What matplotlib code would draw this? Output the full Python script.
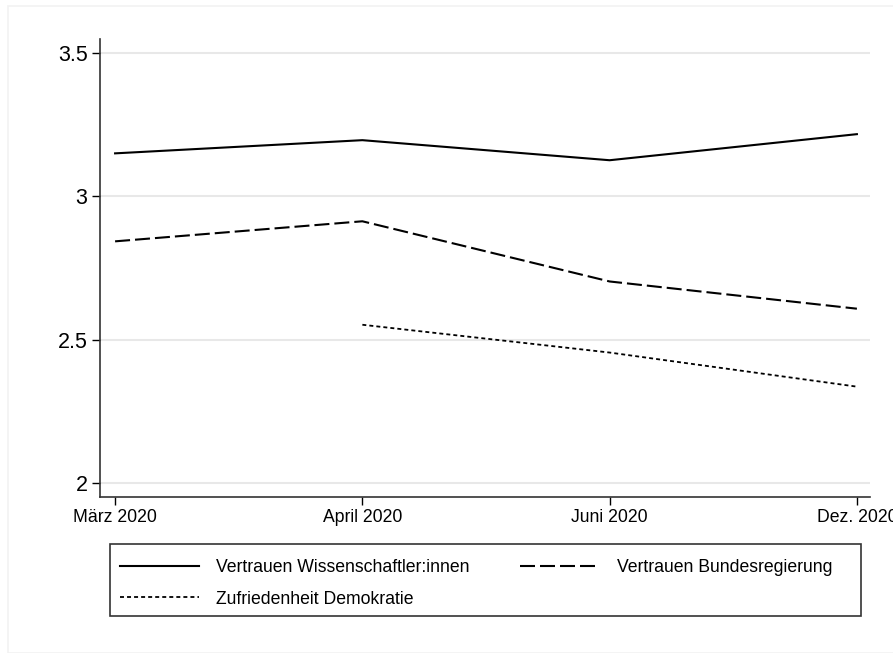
import numpy as np
import matplotlib.pyplot as plt
from matplotlib.patches import Rectangle

plt.rcParams['font.family'] = ['Liberation Sans', 'DejaVu Sans']

# Survey waves
months = ["März 2020", "April 2020", "Juni 2020", "Dez. 2020"]

# Mean values per wave
wissenschaft = [3.150, 3.196, 3.126, 3.217]
regierung = [2.843, 2.913, 2.703, 2.608]
demokratie = [np.nan, 2.552, 2.455, 2.336]

labels = ["Vertrauen Wissenschaftler:innen", "Vertrauen Bundesregierung",
          "Zufriedenheit Demokratie"]

x = np.arange(len(months))

fig = plt.figure(figsize=(8.93, 6.53), dpi=100)
ax = fig.add_axes([100/893, 1-497/653, 770/893, 458/653])

# faint outer frame like the Stata graph region
fig.patches.append(Rectangle((8/893, 0), 1, 1-6/653, transform=fig.transFigure,
                             fill=False, edgecolor='#f2f2f2', linewidth=1.2))

l1, = ax.plot(x, wissenschaft, color='black', lw=1.5, label=labels[0])
l2, = ax.plot(x, regierung, color='black', lw=1.5, dashes=(7.2, 2.4), label=labels[1])
l3, = ax.plot(x, demokratie, color='black', lw=1.3, dashes=(2.2, 1.7), label=labels[2])

ax.set_xlim(-0.061, 3.053)
ax.set_ylim(1.951, 3.549)
ax.set_yticks([2, 2.5, 3, 3.5])
ax.set_yticklabels(["2", "2.5", "3", "3.5"])
ax.set_xticks(x)
ax.set_xticklabels(months)
ax.tick_params(axis='y', labelsize=15.5, length=6, width=1, pad=3)
ax.tick_params(axis='x', labelsize=12.7, length=6, width=1, pad=3)
ax.grid(axis='y', color='#e8e8e8', lw=1.5)
ax.set_axisbelow(True)
for s in ['top', 'right']:
    ax.spines[s].set_visible(False)
for s in ['left', 'bottom']:
    ax.spines[s].set_color('#333333')
    ax.spines[s].set_linewidth(1.2)

# legend box drawn separately, entries placed inside it
fig.patches.append(Rectangle((110/893, 1-616/653), 751/893, 72/653,
                             transform=fig.transFigure, fill=False,
                             edgecolor='#333333', linewidth=1.2))
leg = fig.legend(handles=[l1, l3, l2], labels=[labels[0], labels[2], labels[1]],
                 ncol=2, loc='upper left', bbox_to_anchor=(120/893, 1-559/653),
                 fontsize=12.7, frameon=False, handlelength=4.5,
                 handletextpad=0.97, borderpad=0, borderaxespad=0,
                 labelspacing=0.83, columnspacing=2.84)

fig.savefig('out.png', dpi=100)
